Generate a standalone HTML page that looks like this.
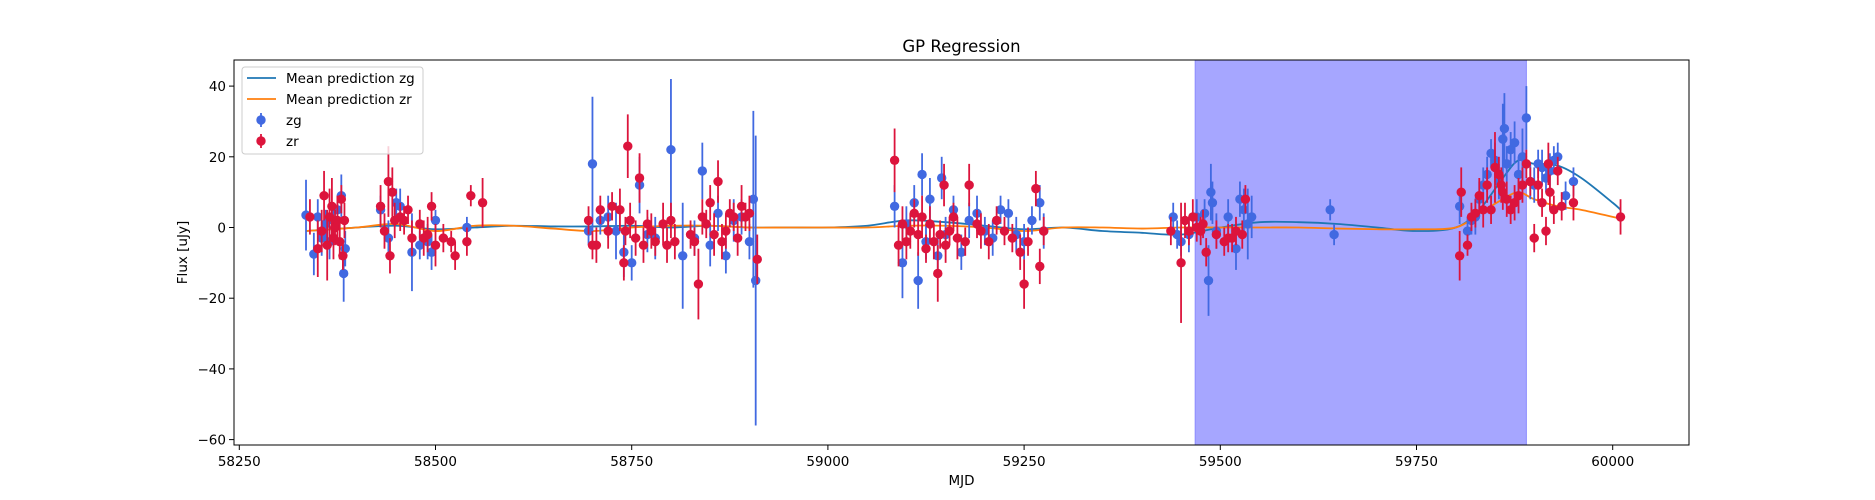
<!DOCTYPE html>
<html><head><meta charset="utf-8"><style>
body{margin:0;background:#fff}
svg{display:block;font-family:"DejaVu Sans","Liberation Sans",sans-serif}
</style></head><body>
<svg id="chart" width="1875" height="500" viewBox="0 0 1875 500"></svg>
<script>
const xTicks=[58250,58500,58750,59000,59250,59500,59750,60000];
const yTicks=[40,20,0,-20,-40,-60];
const spanRange=[59468,59890];
const zgData=[[58335,3.5,10],[58345,-7.5,6],[58350,3,5],[58355,-3,5],[58360,1,4],[58365,-4,5],[58370,2,4],[58375,5,4],[58380,9,6],[58383,-13,8],[58385,-6,5],[58430,5,4],[58440,-3,5],[58450,7,4],[58455,6,5],[58470,-7,11],[58480,-5,4],[58490,-4,5],[58495,-7,5],[58500,2,3],[58540,0,3],
[58695,-1,4],[58700,18,19],[58710,2,4],[58720,3,6],[58730,-1,8],[58740,-7,7],[58750,-10,5],[58760,12,8],[58770,-2,5],[58780,-3,6],[58800,22,20],[58815,-8,15],[58830,-3,5],[58840,16,8],[58850,-5,6],[58860,4,5],[58870,-8,5],[58880,2,6],[58890,3,5],[58900,-4,5],[58905,8,25],[58908,-15,41],
[59085,6,6],[59095,-10,10],[59100,1,5],[59110,7,5],[59115,-15,8],[59120,15,6],[59125,-4,5],[59130,8,6],[59140,-8,6],[59145,14,6],[59150,-2,5],[59160,5,4],[59170,-7,5],[59180,2,5],[59190,4,5],[59200,-1,4],[59210,-3,5],[59220,5,4],[59230,4,4],[59240,-2,5],[59250,-4,5],[59260,2,4],[59270,7,5],[59275,-1,5],
[59440,3,4],[59445,-2,4],[59450,-4,4],[59460,-2,5],[59470,3,5],[59480,4,4],[59485,-15,10],[59488,10,8],[59490,7,6],[59495,-1,5],[59510,3,5],[59520,-6,6],[59525,8,5],[59530,5,6],[59535,1,10],[59540,3,6],[59640,5,3],[59645,-2,3],
[59805,6,5],[59815,-1,4],[59820,2,4],[59825,3,5],[59830,8,5],[59835,12,5],[59840,15,5],[59845,21,4],[59850,19,5],[59855,13,5],[59860,25,10],[59862,28,10],[59865,18,5],[59870,22,5],[59875,24,6],[59880,15,5],[59885,20,8],[59890,31,9],[59895,13,5],[59900,12,5],[59905,18,4],[59910,17,5],[59915,14,4],[59920,16,5],[59925,19,4],[59930,20,4],[59940,9,4],[59950,13,4]];
const zrData=[[58340,3,5],[58350,-6,8],[58355,-1,6],[58358,9,7],[58362,-5,10],[58365,3,8],[58368,6,8],[58370,-3,6],[58372,0,5],[58375,2,7],[58378,-4,5],[58380,8,4],[58382,-8,4],[58384,2,5],[58430,6,6],[58435,-1,5],[58440,13,10],[58442,-8,5],[58445,10,7],[58448,2,5],[58455,3,4],[58460,2,4],[58465,5,4],[58470,-3,5],[58480,1,4],[58485,-3,5],[58490,-2,5],[58495,6,4],[58500,-5,6],[58510,-3,4],[58520,-4,3],[58525,-8,4],[58540,-4,4],[58545,9,3],[58560,7,7],
[58695,2,4],[58700,-5,4],[58705,-5,5],[58710,5,4],[58720,-1,5],[58725,6,4],[58735,5,6],[58740,-10,5],[58742,-1,4],[58745,23,9],[58748,2,5],[58755,-3,5],[58760,14,7],[58765,-5,5],[58770,1,4],[58775,-1,5],[58780,-4,4],[58790,1,6],[58795,-5,5],[58800,2,5],[58805,-4,5],[58825,-2,4],[58830,-4,4],[58835,-16,10],[58840,3,5],[58845,1,4],[58850,7,5],[58855,-2,6],[58860,13,6],[58865,-4,5],[58870,-1,5],[58875,4,4],[58880,3,4],[58885,-3,5],[58890,6,6],[58895,3,4],[58900,4,5],[58910,-9,7],
[59085,19,9],[59090,-5,6],[59095,1,5],[59100,-4,5],[59105,-1,5],[59110,4,4],[59115,-2,6],[59120,3,6],[59125,-6,4],[59130,1,5],[59135,-4,5],[59140,-13,8],[59143,-2,4],[59148,12,6],[59150,-5,5],[59155,-1,4],[59160,3,4],[59165,-3,6],[59175,-4,4],[59180,12,6],[59190,1,4],[59195,-1,5],[59205,-4,5],[59215,2,4],[59225,-1,4],[59235,-3,4],[59245,-7,5],[59250,-16,7],[59255,-4,4],[59265,11,5],[59270,-11,5],[59275,-1,4],
[59437,-1,4],[59450,-10,17],[59455,2,5],[59460,-1,4],[59465,3,5],[59470,0,4],[59475,-1,4],[59478,1,4],[59482,-7,4],[59495,-2,4],[59505,-4,4],[59510,-3,4],[59515,-3,4],[59520,-1,4],[59528,-2,4],[59532,8,4],
[59805,-8,7],[59807,10,7],[59815,-5,3],[59820,3,4],[59825,4,4],[59830,9,5],[59835,5,5],[59840,12,5],[59845,5,4],[59850,17,10],[59855,15,5],[59858,12,5],[59860,10,5],[59865,8,5],[59870,5,4],[59875,7,5],[59880,9,5],[59885,12,5],[59890,18,4],[59895,13,4],[59900,-3,4],[59905,12,5],[59910,7,4],[59915,-1,4],[59918,18,6],[59920,10,5],[59925,5,4],[59930,16,4],[59935,6,4],[59950,7,5],[60010,3,5]];
const gridX=[58335,58400,58450,58500,58550,58600,58650,58700,58750,58800,58850,58900,58950,59000,59050,59100,59150,59200,59250,59300,59350,59400,59450,59500,59550,59600,59650,59700,59750,59800,59830,59860,59880,59900,59930,59960,60000,60010];
const zgMean=[-1,0,0.5,-0.5,0,0.5,0.3,0.3,0.5,0,0.5,0,0,0,0.5,2,1.5,0.5,-0.5,0,-1,-1.5,-2,0,1.5,1.5,1,0,-1,0,5,14,19,18,17.5,14,7,5];
const zrMean=[-1,0,1,-1,0.5,0.5,-0.3,-1,0,0.5,0.5,0,0,0,0,0.5,0.5,0,-1,0,0,-0.3,0,0,0,0,-0.3,-0.5,-0.5,0,4,8,10,8,6,5,3,2.5];

const L=234,R=1689,T=60,B=445;
const X=v=>239.3+(v-58250)*0.7848;
const Y=v=>227.5-v*3.535;
const svg=document.getElementById('chart');
const NS='http://www.w3.org/2000/svg';
function mk(tag,attrs,parent){const e=document.createElementNS(NS,tag);for(const k in attrs)e.setAttribute(k,attrs[k]);(parent||svg).appendChild(e);return e;}

const clip=mk('clipPath',{id:'pc'});mk('rect',{x:L,y:T,width:R-L,height:B-T},clip);
const plot=mk('g',{'clip-path':'url(#pc)'});



const span=mk('rect',{x:X(spanRange[0]),y:T,width:X(spanRange[1])-X(spanRange[0]),height:B-T,fill:'#a6a6ff',stroke:'#8c8cff','stroke-width':1},plot);



function curve(vals,color,name){
  const p=gridX.map((x,i)=>[X(x),Y(vals[i])]);
  let d='M'+p[0][0]+','+p[0][1];
  for(let i=0;i<p.length-1;i++){
    const p0=p[Math.max(0,i-1)],p1=p[i],p2=p[i+1],p3=p[Math.min(p.length-1,i+2)];
    d+=' C'+(p1[0]+(p2[0]-p0[0])/6)+','+(p1[1]+(p2[1]-p0[1])/6)+' '+(p2[0]-(p3[0]-p1[0])/6)+','+(p2[1]-(p3[1]-p1[1])/6)+' '+p2[0]+','+p2[1];
  }
  const e=mk('path',{d:d,fill:'none',stroke:color,'stroke-width':1.8},plot);
  
  
}
curve(zgMean,'#1f77b4','mean-prediction-zg-line');
curve(zrMean,'#ff7f0e','mean-prediction-zr-line');

function points(data,color,name){
  const g=mk('g',{},plot);
  
  
  data.forEach(d=>{
    const l=mk('line',{x1:X(d[0]),x2:X(d[0]),y1:Y(d[1]-d[2]),y2:Y(d[1]+d[2]),stroke:color,'stroke-width':1.8},g);
    
    
    const c=mk('circle',{cx:X(d[0]),cy:Y(d[1]),r:4.7,fill:color},g);
    
    
  });
}
points(zgData,'#4169e1','zg-points');
points(zrData,'#dc143c','zr-points');

const frame=mk('rect',{x:L,y:T,width:R-L,height:B-T,fill:'none',stroke:'#000','stroke-width':1});



xTicks.forEach(v=>{
  const x=X(v);
  const t=mk('line',{x1:x,x2:x,y1:B,y2:B+5,stroke:'#000','stroke-width':1});
  
  
  const s=mk('text',{x:x,y:B+21,'text-anchor':'middle','font-size':13.5});
  s.textContent=v;
  
  
});
yTicks.forEach(v=>{
  const y=Y(v);
  const t=mk('line',{x1:L-5,x2:L,y1:y,y2:y,stroke:'#000','stroke-width':1});
  
  
  const s=mk('text',{x:L-8,y:y+5,'text-anchor':'end','font-size':13.5});
  s.textContent=(v<0?'\u2212':'')+Math.abs(v);
  
  
});
const title=mk('text',{x:(L+R)/2,y:52,'text-anchor':'middle','font-size':16.5});
title.textContent='GP Regression';


const xl=mk('text',{x:(L+R)/2,y:485,'text-anchor':'middle','font-size':13.5});
xl.textContent='MJD';


const yl=mk('text',{x:0,y:0,'text-anchor':'middle','font-size':13.5,transform:'translate(187,'+((T+B)/2)+') rotate(-90)'});
yl.textContent='Flux [uJy]';



const lg=mk('g',{});


mk('rect',{x:242,y:67,width:181,height:87,rx:3,fill:'#fff','fill-opacity':0.8,stroke:'#ccc','stroke-width':1},lg);
const entries=[['line','#1f77b4','Mean prediction zg',78],['line','#ff7f0e','Mean prediction zr',99],['pt','#4169e1','zg',120],['pt','#dc143c','zr',141]];
entries.forEach(e=>{
  const g=mk('g',{},lg);
  
  
  if(e[0]==='line'){mk('line',{x1:247,x2:276,y1:e[3],y2:e[3],stroke:e[1],'stroke-width':1.8},g);}
  else{mk('line',{x1:261,x2:261,y1:e[3]-7,y2:e[3]+7,stroke:e[1],'stroke-width':1.8},g);mk('circle',{cx:261,cy:e[3],r:4.7,fill:e[1]},g);}
  const t=mk('text',{x:286,y:e[3]+5,'font-size':13.5},g);t.textContent=e[2];
});
</script>
</body></html>
